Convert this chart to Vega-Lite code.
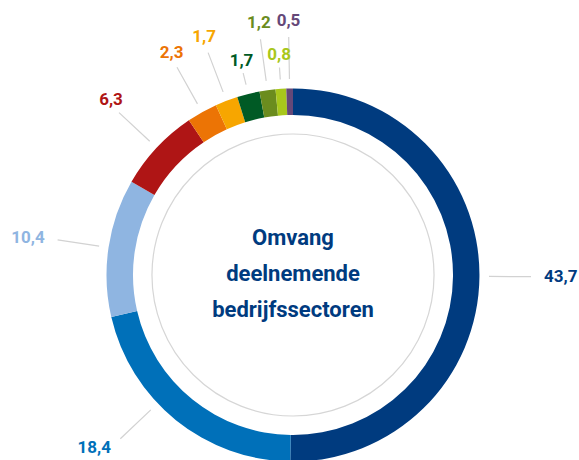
{
  "$schema": "https://vega.github.io/schema/vega-lite/v6.json",
  "width": 572,
  "height": 370,
  "autosize": "none",
  "padding": {"left": 7, "top": 90, "right": 0, "bottom": 0},
  "background": "white",
  "config": {"view": {"stroke": null}, "text": {"font": "Roboto"}},
  "datasets": {
    "sectors": [
      {"order": 1, "label": "43,7", "value": 43.7},
      {"order": 2, "label": "18,4", "value": 18.4},
      {"order": 3, "label": "10,4", "value": 10.4},
      {"order": 4, "label": "6,3", "value": 6.3},
      {"order": 5, "label": "2,3", "value": 2.3},
      {"order": 6, "label": "1,7", "value": 1.7},
      {"order": 7, "label": "1,7", "value": 1.7},
      {"order": 8, "label": "1,2", "value": 1.2},
      {"order": 9, "label": "0,8", "value": 0.8},
      {"order": 10, "label": "0,5", "value": 0.5}
    ]
  },
  "layer": [
    {
      "data": {"values": [{}]},
      "mark": {"type": "arc", "radius": 141, "filled": false, "color": "#d6d6d6", "strokeWidth": 1.2},
      "encoding": {}
    },
    {
      "data": {"name": "sectors"},
      "transform": [
        {"stack": "value", "groupby": [], "sort": [{"field": "order"}], "as": ["t0", "t1"]}
      ],
      "mark": {"type": "arc", "radius": 186.5, "radius2": 160},
      "encoding": {
        "theta": {"field": "t0", "type": "quantitative", "stack": null, "scale": {"domain": [0, 87]}},
        "theta2": {"field": "t1"},
        "color": {"field": "order", "type": "nominal", "legend": null,
          "scale": {"domain": [1,2,3,4,5,6,7,8,9,10],
            "range": ["#003b7f", "#0070b9", "#8fb5e1", "#af1515", "#ec7405", "#f7a600", "#005a25", "#6b8c1e", "#a8c71c", "#654878"]}}
      }
    },
    {
      "data": {"name": "sectors"},
      "transform": [
        {"stack": "value", "groupby": [], "sort": [{"field": "order"}], "as": ["t0", "t1"]},
        {"calculate": "datum.order === 2 ? datum.t0 + 0.6 * datum.value : (datum.t0 + datum.t1) / 2", "as": "pos"},
        {"filter": "datum.order !== 7 && datum.order !== 9"}
      ],
      "mark": {"type": "arc", "radius": 238, "radius2": 196, "filled": false, "color": "#d2d2d2", "strokeWidth": 1.2},
      "encoding": {
        "theta": {"field": "pos", "type": "quantitative", "stack": null, "scale": {"domain": [0, 87]}},
        "theta2": {"field": "pos"}
      }
    },
    {
      "data": {"name": "sectors"},
      "transform": [
        {"stack": "value", "groupby": [], "sort": [{"field": "order"}], "as": ["t0", "t1"]},
        {"calculate": "(datum.t0 + datum.t1) / 2", "as": "pos"},
        {"filter": "datum.order === 7 || datum.order === 9"}
      ],
      "mark": {"type": "arc", "radius": 208, "radius2": 196, "filled": false, "color": "#d2d2d2", "strokeWidth": 1.2},
      "encoding": {
        "theta": {"field": "pos", "type": "quantitative", "stack": null, "scale": {"domain": [0, 87]}},
        "theta2": {"field": "pos"}
      }
    },
    {
      "data": {"name": "sectors"},
      "transform": [
        {"stack": "value", "groupby": [], "sort": [{"field": "order"}], "as": ["t0", "t1"]},
        {"calculate": "(datum.t0 + datum.t1) / 2", "as": "pos"},
        {"filter": "datum.order === 1"}
      ],
      "mark": {"type": "text", "radius": 251, "align": "left", "baseline": "middle", "fontSize": 17, "fontWeight": "bold"},
      "encoding": {
        "theta": {"field": "pos", "type": "quantitative", "stack": null, "scale": {"domain": [0, 87]}},
        "text": {"field": "label"},
        "color": {"field": "order", "type": "nominal", "legend": null}
      }
    },
    {
      "data": {"name": "sectors"},
      "transform": [
        {"stack": "value", "groupby": [], "sort": [{"field": "order"}], "as": ["t0", "t1"]},
        {"calculate": "datum.order === 2 ? datum.t0 + 0.6 * datum.value : (datum.t0 + datum.t1) / 2", "as": "pos"},
        {"filter": "datum.order === 2 || datum.order === 3"}
      ],
      "mark": {"type": "text", "radius": 251, "align": "right", "baseline": "middle", "fontSize": 17, "fontWeight": "bold"},
      "encoding": {
        "theta": {"field": "pos", "type": "quantitative", "stack": null, "scale": {"domain": [0, 87]}},
        "text": {"field": "label"},
        "color": {"field": "order", "type": "nominal", "legend": null}
      }
    },
    {
      "data": {"name": "sectors"},
      "transform": [
        {"stack": "value", "groupby": [], "sort": [{"field": "order"}], "as": ["t0", "t1"]},
        {"calculate": "(datum.t0 + datum.t1) / 2", "as": "pos"},
        {"filter": "datum.order >= 4 && datum.order !== 7 && datum.order !== 9"}
      ],
      "mark": {"type": "text", "radius": 249, "align": "center", "baseline": "alphabetic", "fontSize": 17, "fontWeight": "bold"},
      "encoding": {
        "theta": {"field": "pos", "type": "quantitative", "stack": null, "scale": {"domain": [0, 87]}},
        "text": {"field": "label"},
        "color": {"field": "order", "type": "nominal", "legend": null}
      }
    },
    {
      "data": {"name": "sectors"},
      "transform": [
        {"stack": "value", "groupby": [], "sort": [{"field": "order"}], "as": ["t0", "t1"]},
        {"calculate": "(datum.t0 + datum.t1) / 2", "as": "pos"},
        {"filter": "datum.order === 7 || datum.order === 9"}
      ],
      "mark": {"type": "text", "radius": 215, "align": "center", "baseline": "alphabetic", "fontSize": 17, "fontWeight": "bold"},
      "encoding": {
        "theta": {"field": "pos", "type": "quantitative", "stack": null, "scale": {"domain": [0, 87]}},
        "text": {"field": "label"},
        "color": {"field": "order", "type": "nominal", "legend": null}
      }
    },
    {
      "data": {"values": [{}]},
      "mark": {"type": "text", "text": ["Omvang", "deelnemende", "bedrijfssectoren"], "lineHeight": 36, "fontSize": 22, "fontWeight": "bold", "color": "#003b7f", "align": "center", "baseline": "middle", "dy": -37},
      "encoding": {}
    }
  ]
}
